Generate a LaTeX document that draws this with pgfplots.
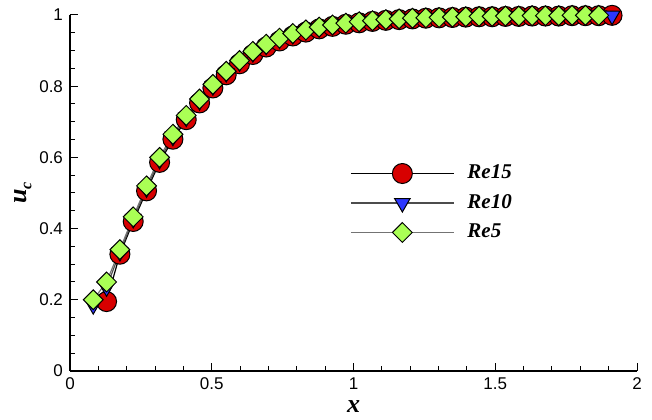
\documentclass[border=0pt]{standalone}
\usepackage{pgfplots}
\pgfplotsset{compat=1.18}
\usepackage{fontspec}
\setmainfont{Liberation Sans}
\newfontfamily\tnr{Liberation Serif}

\definecolor{cred}{RGB}{215,0,0}
\definecolor{cblue}{RGB}{45,55,255}
\definecolor{cgreen}{RGB}{170,255,85}

\begin{document}
\begin{tikzpicture}
\begin{axis}[
    name=ax,
    scale only axis,
    width=283.5pt, height=178pt,
    xmin=0, xmax=2, ymin=0, ymax=1,
    axis x line=bottom, axis y line=left,
    axis line style={-, line width=1.4pt},
    xtick={0,0.5,1,1.5,2}, minor x tick num=4,
    ytick={0,0.2,0.4,0.6,0.8,1}, minor y tick num=3,
    tick align=inside,
    major tick length=4pt, minor tick length=2.5pt,
    tick style={black, line width=0.5pt},
    /pgf/number format/assume math mode=true,
    ticklabel style={font=\fontsize{8.5}{9}\selectfont},
    xlabel={\tnr\fontsize{13}{14}\selectfont\bfseries\itshape x},
    ylabel={\tnr\fontsize{13}{14}\selectfont\bfseries\itshape u\raisebox{-0.45ex}{\fontsize{8}{9}\selectfont c}},
    xlabel style={yshift=1.5pt},
    ylabel style={yshift=-3pt},
    legend style={draw=none, fill=none, at={(rel axis cs:0.483,0.602)}, anchor=north west,
        row sep=2.3pt, column sep=4.5pt, font=\tnr\fontsize{10.5}{12}\selectfont\bfseries\itshape},
    legend cell align=left,
    legend image code/.code={\draw[mark repeat=2,mark phase=2,#1] plot coordinates {(0pt,0pt) (25.75pt,0pt) (51.5pt,0pt)};},
]

% Re15
\addplot[black, line width=0.6pt, mark=*, mark size=5pt,
    mark options={fill=cred, draw=black, line width=0.5pt}]
coordinates {
(0.129,0.195) (0.176,0.328) (0.223,0.420) (0.270,0.506) (0.316,0.586)
(0.363,0.651) (0.410,0.706) (0.457,0.753) (0.504,0.795) (0.551,0.832)
(0.598,0.863) (0.645,0.889) (0.692,0.910) (0.739,0.927) (0.786,0.941)
(0.832,0.952) (0.879,0.961) (0.926,0.968) (0.973,0.974) (1.020,0.978)
(1.067,0.982) (1.114,0.985) (1.161,0.987) (1.208,0.989) (1.255,0.991)
(1.302,0.992) (1.349,0.993) (1.396,0.994) (1.443,0.995) (1.489,0.995)
(1.536,0.996) (1.583,0.996) (1.630,0.997) (1.677,0.997) (1.724,0.997)
(1.771,0.998) (1.818,0.998) (1.865,0.998) (1.912,0.999)
};
\addlegendentry{Re15}

% Re10
\addplot[black!70, line width=0.6pt, mark=triangle*, mark size=4.5pt,
    mark options={rotate=180, fill=cblue, draw=black, line width=0.5pt}]
coordinates {
(0.082,0.185) (0.129,0.235) (0.176,0.334) (0.223,0.427) (0.270,0.513)
(0.316,0.593) (0.363,0.658) (0.410,0.712) (0.457,0.758) (0.504,0.800)
(0.551,0.837) (0.598,0.867) (0.645,0.893) (0.692,0.914) (0.739,0.931)
(0.786,0.944) (0.832,0.955) (0.879,0.963) (0.926,0.970) (0.973,0.975)
(1.020,0.979) (1.067,0.983) (1.114,0.986) (1.161,0.988) (1.208,0.990)
(1.255,0.991) (1.302,0.992) (1.349,0.993) (1.396,0.994) (1.443,0.995)
(1.489,0.996) (1.536,0.996) (1.583,0.997) (1.630,0.997) (1.677,0.998)
(1.724,0.998) (1.771,0.998) (1.818,0.998) (1.865,0.999) (1.912,0.998)
};
\addlegendentry{Re10}

% Re5
\addplot[black!55, line width=0.6pt, mark=square*, mark size=3.5pt,
    mark options={rotate=45, fill=cgreen, draw=black, line width=0.5pt}]
coordinates {
(0.082,0.200) (0.129,0.250) (0.176,0.341) (0.223,0.433) (0.270,0.520)
(0.316,0.600) (0.363,0.665) (0.410,0.718) (0.457,0.764) (0.504,0.805)
(0.551,0.842) (0.598,0.872) (0.645,0.898) (0.692,0.918) (0.739,0.935)
(0.786,0.948) (0.832,0.958) (0.879,0.966) (0.926,0.972) (0.973,0.977)
(1.020,0.981) (1.067,0.984) (1.114,0.987) (1.161,0.989) (1.208,0.991)
(1.255,0.992) (1.302,0.993) (1.349,0.994) (1.396,0.995) (1.443,0.996)
(1.489,0.996) (1.536,0.997) (1.583,0.997) (1.630,0.998) (1.677,0.998)
(1.724,0.998) (1.771,0.999) (1.818,0.999) (1.865,0.999)
};
\addlegendentry{Re5}

\end{axis}
\path ([xshift=-35pt,yshift=-22pt]ax.south west) rectangle ([xshift=7.5pt,yshift=7.5pt]ax.north east);
\end{tikzpicture}
\end{document}
